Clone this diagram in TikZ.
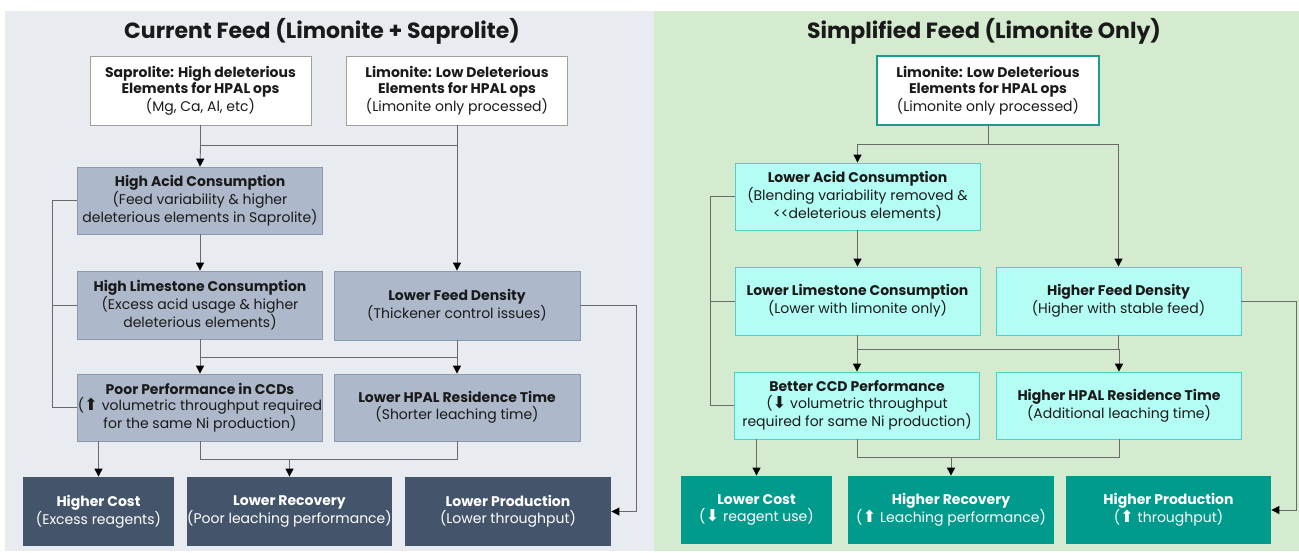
\documentclass[tikz,border=0pt]{standalone}
\usepackage{fontspec}
\setmainfont{Poppins}
\newfontfamily\symfont{DejaVu Sans}
\usetikzlibrary{arrows.meta}
\definecolor{leftbg}{HTML}{E8ECF1}
\definecolor{rightbg}{HTML}{D4EBD0}
\definecolor{lmidfill}{HTML}{ADB9CA}
\definecolor{lmiddraw}{HTML}{8C9AAE}
\definecolor{lbot}{HTML}{44546A}
\definecolor{rmidfill}{HTML}{B4FDF4}
\definecolor{rmiddraw}{HTML}{4FD1C5}
\definecolor{rbot}{HTML}{009B8D}
\definecolor{tealdraw}{HTML}{1B9C8E}
\definecolor{topdraw}{HTML}{A0A0A0}
\definecolor{linecol}{HTML}{6A6A6A}
\definecolor{txt}{HTML}{1A1A1A}
\newcommand{\up}{{\symfont\fontsize{16.5}{16.5}\selectfont ⬆}}
\newcommand{\dn}{{\symfont\fontsize{16.5}{16.5}\selectfont ⬇}}
\begin{document}
\begin{tikzpicture}[x=1pt,y=-1pt,
  box/.style={align=center, inner sep=0pt, text=txt, line width=0.8pt,
    font=\fontsize{14}{16.5}\selectfont},
  topbox/.style={box, draw=topdraw, fill=white, minimum height=69pt},
  tealbox/.style={box, draw=tealdraw, fill=white, line width=1.2pt, minimum height=69pt},
  lmid/.style={box, draw=lmiddraw, fill=lmidfill, minimum width=245pt, minimum height=67pt},
  lbotbox/.style={box, fill=lbot, text=white, minimum height=69pt},
  rmid/.style={box, draw=rmiddraw, fill=rmidfill, minimum width=245pt, minimum height=67pt},
  rbotbox/.style={box, fill=rbot, text=white, minimum height=68pt},
  title/.style={font=\fontsize{22}{26}\selectfont\bfseries, text=txt},
  conn/.style={draw=linecol, line width=0.9pt},
  arr/.style={conn, arrows={-{Triangle[length=8pt,width=8pt,fill=black,color=black]}}}
]
\useasboundingbox (0,0) rectangle (1299,552);
\fill[white] (0,0) rectangle (1299,552);
\fill[leftbg] (5,11) rectangle (654,551);
\fill[rightbg] (654,11) rectangle (1299,551);

\node[title] (tl) at (322,31) {Current Feed (Limonite + Saprolite)};
\node[title] (tr) at (984,31) {Simplified Feed (Limonite Only)};

% left nodes
\node[topbox, minimum width=221pt] (sap) at (200.5,90.5) {\textbf{Saprolite: High deleterious}\\\textbf{Elements for HPAL ops}\\(Mg, Ca, Al, etc)};
\node[topbox, minimum width=221pt] (liml) at (457,90.5) {\textbf{Limonite: Low Deleterious}\\\textbf{Elements for HPAL ops}\\(Limonite only processed)};
\node[lmid] (hac) at (200,200.5) {\textbf{High Acid Consumption}\\(Feed variability \& higher\\deleterious elements in Saprolite)};
\node[lmid, minimum height=68pt] (hls) at (200,305) {\textbf{High Limestone Consumption}\\(Excess acid usage \& higher\\deleterious elements)};
\node[lmid, minimum width=246pt, minimum height=69pt] (lfd) at (457,305.5) {\textbf{Lower Feed Density}\\(Thickener control issues)};
\node[lmid] (ppc) at (200,407.5) {\textbf{Poor Performance in CCDs}\\(\up\ volumetric throughput required\\for the same Ni production)};
\node[lmid, minimum width=246pt] (lhr) at (457,407.5) {\textbf{Lower HPAL Residence Time}\\(Shorter leaching time)};
\node[lbotbox, minimum width=151pt] (hc) at (98.5,511.5) {\textbf{Higher Cost}\\(Excess reagents)};
\node[lbotbox, minimum width=205pt] (lrc) at (289.5,511.5) {\textbf{Lower Recovery}\\(Poor leaching performance)};
\node[lbotbox, minimum width=206pt] (lpr) at (508,511.5) {\textbf{Lower Production}\\(Lower throughput)};

% right nodes
\node[tealbox, minimum width=222pt] (limr) at (988,90.5) {\textbf{Limonite: Low Deleterious}\\\textbf{Elements for HPAL ops}\\(Limonite only processed)};
\node[rmid] (lac) at (857.5,196.5) {\textbf{Lower Acid Consumption}\\(Blending variability removed \&\\<{}<deleterious elements)};
\node[rmid, minimum height=68pt] (llc) at (857.5,301) {\textbf{Lower Limestone Consumption}\\(Lower with limonite only)};
\node[rmid, minimum height=68pt] (hfd) at (1118.5,301) {\textbf{Higher Feed Density}\\(Higher with stable feed)};
\node[rmid] (bcc) at (857,405.5) {\textbf{Better CCD Performance}\\(\dn\ volumetric throughput\\required for same Ni production)};
\node[rmid] (hhr) at (1119,405.5) {\textbf{Higher HPAL Residence Time}\\(Additional leaching time)};
\node[rbotbox, minimum width=151pt] (lco) at (756.5,510) {\textbf{Lower Cost}\\(\dn\ reagent use)};
\node[rbotbox, minimum width=206pt] (hre) at (951,510) {\textbf{Higher Recovery}\\(\up\ Leaching performance)};
\node[rbotbox, minimum width=205pt] (hpr) at (1168.5,510) {\textbf{Higher Production}\\(\up\ throughput)};

% junction rows
\coordinate (lj1) at (0,145);
\coordinate (lj2) at (0,357);
\coordinate (lj3) at (0,459);
\coordinate (lx1) at (52,0);
\coordinate (lx2) at (636,0);
\coordinate (rj1) at (0,144);
\coordinate (rj2) at (0,349);
\coordinate (rj3) at (0,457);
\coordinate (rx1) at (710.5,0);
\coordinate (rx2) at (1296,0);

% left connectors
\draw[conn] (sap.south) -- (sap.south |- lj1) -- (liml.south |- lj1);
\draw[arr] (sap.south |- lj1) -- (hac.north);
\draw[arr] (liml.south) -- (lfd.north);
\draw[arr] (hac.south) -- (hls.north);
\draw[conn] (hac.west) -- (hac.west -| lx1) |- (ppc.west);
\draw[conn] (hls.west) -- (hls.west -| lx1);
\draw[conn] (hls.south) -- (hls.south |- lj2) -- (lfd.south |- lj2);
\draw[conn] (lfd.south) -- (lfd.south |- lj2);
\draw[arr] (hls.south |- lj2) -- (ppc.north);
\draw[arr] (lfd.south |- lj2) -- (lhr.north);
\draw[arr] (lfd.east) -- (lfd.east -| lx2) |- (lpr.east);
\draw[arr] (hc.north |- ppc.south) -- (hc.north);
\draw[conn] (ppc.south) -- (ppc.south |- lj3) -- (lhr.south |- lj3) -- (lhr.south);
\draw[arr] (lrc.north |- lj3) -- (lrc.north);

% right connectors
\draw[conn] (limr.south) -- (limr.south |- rj1);
\draw[conn] (lac.north |- rj1) -- (hfd.north |- rj1);
\draw[arr] (lac.north |- rj1) -- (lac.north);
\draw[arr] (hfd.north |- rj1) -- (hfd.north);
\draw[arr] (lac.south) -- (llc.north);
\draw[conn] (lac.west) -- (lac.west -| rx1) |- (bcc.west);
\draw[conn] (llc.west) -- (llc.west -| rx1);
\draw[conn] (llc.south) -- (llc.south |- rj2) -- (hfd.south |- rj2) -- (hfd.south);
\draw[arr] (bcc.north |- rj2) -- (bcc.north);
\draw[arr] (hhr.north |- rj2) -- (hhr.north);
\draw[arr] (hfd.east) -- (hfd.east -| rx2) |- (hpr.east);
\draw[arr] (lco.north |- bcc.south) -- (lco.north);
\draw[conn] (bcc.south) -- (bcc.south |- rj3) -- (hhr.south |- rj3) -- (hhr.south);
\draw[arr] (hre.north |- rj3) -- (hre.north);
\end{tikzpicture}
\end{document}
